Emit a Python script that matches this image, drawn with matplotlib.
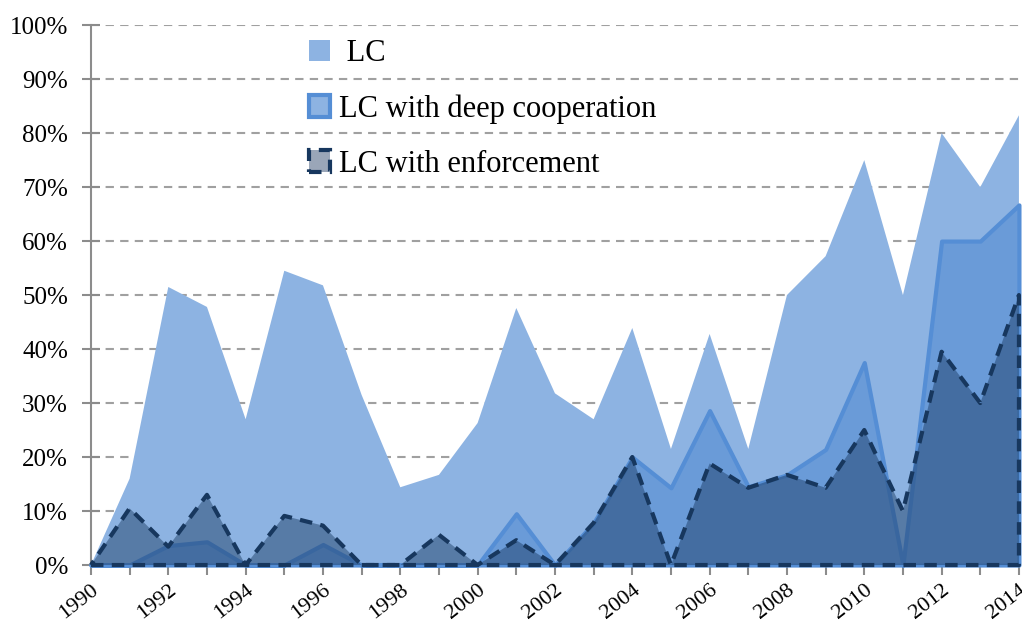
import matplotlib
matplotlib.use("Agg")
import matplotlib.pyplot as plt
from matplotlib.patches import Patch
import numpy as np

years = list(range(1990, 2015))
lc = [0, 16, 51.5, 47.8, 27, 54.5, 51.8, 31.5, 14.4, 16.7, 26.3, 47.6, 31.8, 27,
      43.9, 21.5, 42.8, 21.5, 50, 57.2, 75, 50, 80, 70, 83.3]
deep = [0, 0, 3.6, 4.3, 0, 0, 3.8, 0, 0, 0, 0, 9.5, 0, 7.8,
        20, 14.3, 28.6, 14.5, 16.7, 21.4, 37.5, 0, 60, 60, 66.7]
enf = [0, 10.5, 3.4, 13, 0, 9.1, 7.3, 0, 0, 5.6, 0, 4.6, 0, 7.8,
       20, 0, 18.8, 14.3, 16.7, 14.3, 25, 10, 39.5, 30, 50]
yticks = list(range(0, 101, 10))
xtick_labels = [str(y) for y in range(1990, 2015, 2)]

serif = ["Liberation Serif", "DejaVu Serif"]

fig = plt.figure(figsize=(10.22, 6.28), dpi=100)
ax = fig.add_axes([0.089, 0.1003, 0.908, 0.8597])

c_lc = "#8DB3E2"
c_deep_fill = "#6A9BD8"
c_deep_edge = "#558ED5"
c_enf_fill = (23/255, 55/255, 94/255, 0.45)
c_enf_edge = "#17375E"

ax.fill_between(years, 0, lc, facecolor=c_lc, edgecolor="none", zorder=2)
ax.fill_between(years, 0, deep, facecolor=c_deep_fill, edgecolor=c_deep_edge,
                linewidth=3, zorder=3, clip_on=False)
ax.fill_between(years, 0, enf, facecolor=c_enf_fill, edgecolor=c_enf_edge,
                linewidth=3, linestyle=(0, (3, 2)), zorder=4, clip_on=False)

ax.set_xlim(1990, 2014)
ax.set_ylim(0, 100)
ax.set_yticks(yticks)
ax.set_yticklabels([f"{v}%" for v in yticks], fontfamily=serif, fontsize=18)
ax.set_xticks(years)
ax.set_xticklabels([str(y) if (y - 1990) % 2 == 0 else "" for y in years],
                   fontfamily=serif, fontsize=16, rotation=38, ha="right",
                   rotation_mode="anchor")
ax.tick_params(axis="x", direction="out", length=7, color="#8C8C8C", width=1.5, pad=4)
ax.tick_params(axis="y", direction="inout", length=13, color="#8C8C8C", width=1.5, pad=10)
ax.grid(axis="y", color="#A0A0A0", linestyle=(0, (4, 3)), linewidth=1.5, zorder=1)
ax.set_axisbelow(True)
for s in ["top", "right"]:
    ax.spines[s].set_visible(False)
for s in ["left", "bottom"]:
    ax.spines[s].set_color("#8C8C8C")
    ax.spines[s].set_linewidth(1.5)
    ax.spines[s].set_zorder(1)

handles = [
    Patch(facecolor=c_lc, edgecolor="none", label=" LC"),
    Patch(facecolor="#8DB3E2", edgecolor=c_deep_edge, linewidth=3, label="LC with deep cooperation"),
    Patch(facecolor="#9AA6B8", edgecolor=c_enf_edge, linewidth=3, linestyle=(0, (3, 2)),
          label="LC with enforcement"),
]
leg = ax.legend(handles=handles, loc="upper left", bbox_to_anchor=(0.205, 1.025),
                frameon=False, prop={"family": serif, "size": 22},
                handlelength=0.7, handleheight=0.7, handletextpad=0.3,
                labelspacing=0.85)

fig.savefig("out.png", dpi=100)
